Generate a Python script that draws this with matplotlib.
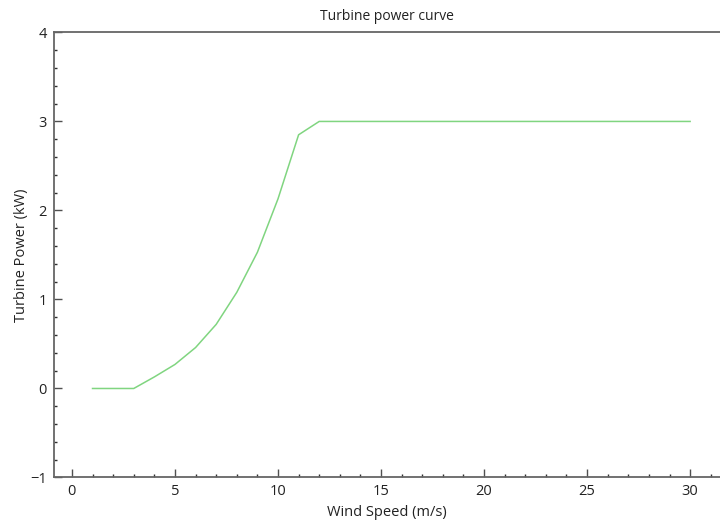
import matplotlib.pyplot as plt
from matplotlib.ticker import MultipleLocator

plt.rcParams['font.family'] = ['Open Sans', 'DejaVu Sans']

wind_speed = [1, 2, 3, 4, 5, 6, 7, 8, 9, 10, 11, 12, 13, 14, 15, 16, 17, 18, 19, 20,
              21, 22, 23, 24, 25, 26, 27, 28, 29, 30]
power_kw = [0, 0, 0, 0.13, 0.27, 0.46, 0.72, 1.08, 1.53, 2.13, 2.85, 3.0, 3.0, 3.0, 3.0,
            3.0, 3.0, 3.0, 3.0, 3.0, 3.0, 3.0, 3.0, 3.0, 3.0, 3.0, 3.0, 3.0, 3.0, 3.0]

fig = plt.figure(figsize=(7.2, 5.23), dpi=100)
ax = fig.add_axes([0.075, 0.087, 0.925, 0.851])
ax.plot(wind_speed, power_kw, color='#80d580', lw=1.1)

ax.set_xlim(-0.87, 31.45)
ax.set_ylim(-1, 4)
ax.xaxis.set_major_locator(MultipleLocator(5))
ax.xaxis.set_minor_locator(MultipleLocator(1))
ax.yaxis.set_major_locator(MultipleLocator(1))
ax.yaxis.set_minor_locator(MultipleLocator(0.2))
ax.tick_params(which='major', direction='in', length=6, width=1, color='#505050',
               labelsize=10.5, labelcolor='#222222', pad=5)
ax.tick_params(which='minor', direction='in', length=2.5, width=1, color='#303030')

ax.spines['right'].set_visible(False)
for side in ['left', 'bottom', 'top']:
    ax.spines[side].set_color('#666666')
    ax.spines[side].set_linewidth(1.3)

ax.set_title('Turbine power curve', fontsize=10, color='#222222', pad=9)
ax.set_xlabel('Wind Speed (m/s)', fontsize=10.5, color='#222222', labelpad=4)
ax.set_ylabel('Turbine Power (kW)', fontsize=10.5, color='#222222', labelpad=1)

fig.savefig('out.png', dpi=100)
